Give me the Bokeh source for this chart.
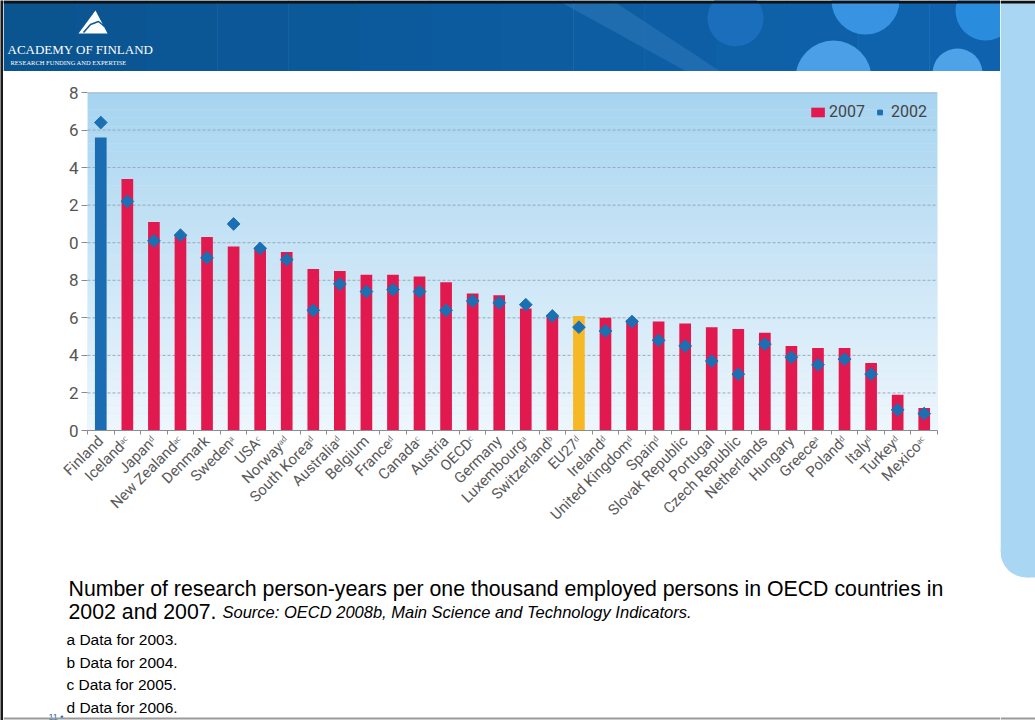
from math import pi
from bokeh.plotting import figure
from bokeh.layouts import row, column
from bokeh.models import (Range1d, LinearAxis, FixedTicker, BoxAnnotation, Legend,
                          LegendItem, ColumnDataSource, Span)
from bokeh.core.properties import value
from bokeh.embed import file_html
from bokeh.resources import INLINE

# ---------------- data ----------------
countries = ["Finland", "Iceland", "Japan", "New Zealand", "Denmark", "Sweden", "USA", "Norway",
             "South Korea", "Australia", "Belgium", "France", "Canada", "Austria", "OECD",
             "Germany", "Luxembourg", "Switzerland", "EU27", "Ireland", "United Kingdom", "Spain",
             "Slovak Republic", "Portugal", "Czech Republic", "Netherlands", "Hungary", "Greece",
             "Poland", "Italy", "Turkey", "Mexico"]
notes = ["", "ac", "d", "ac", "", "a", "c", "ad", "d", "d", "", "d", "c", "", "c", "", "a", "b",
         "d", "d", "d", "d", "", "", "", "", "", "a", "d", "d", "d", "ac"]
v2007 = [15.6, 13.4, 11.1, 10.4, 10.3, 9.8, 9.7, 9.5, 8.6, 8.5, 8.3, 8.3, 8.2, 7.9, 7.3, 7.2,
         6.5, 6.1, 6.1, 6.0, 5.9, 5.8, 5.7, 5.5, 5.4, 5.2, 4.5, 4.4, 4.4, 3.6, 1.9, 1.2]
v2002 = [16.4, 12.2, 10.1, 10.4, 9.2, 11.0, 9.7, 9.1, 6.4, 7.8, 7.4, 7.5, 7.4, 6.4, 6.9, 6.8,
         6.7, 6.1, 5.5, 5.3, 5.8, 4.8, 4.5, 3.7, 3.0, 4.6, 3.9, 3.5, 3.8, 3.0, 1.1, 0.9]
y_ticks = [0, 2, 4, 6, 8, 10, 12, 14, 16, 18]
y_tick_labels = ["0", "2", "4", "6", "8", "0", "2", "4", "6", "8"]
series_names = ["2007", "2002"]

header_title = "ACADEMY OF FINLAND"
header_sub = "RESEARCH FUNDING AND EXPERTISE"
caption_1 = "Number of research person-years per one thousand employed persons in OECD countries in"
caption_2 = "2002 and 2007."
source_text = "Source: OECD 2008b, Main Science and Technology Indicators."
footnotes = ["a Data for 2003.", "b Data for 2004.", "c Data for 2005.", "d Data for 2006."]
page_no = "11 \u2022"

# ---------------- styling ----------------
SUP = {"a": "\u1d43", "b": "\u1d47", "c": "\u1d9c", "d": "\u1d48"}
labels = [c + "".join(SUP[ch] for ch in n) for c, n in zip(countries, notes)]
RED, BLUE, YELLOW, DIAM = "#e2194f", "#1a6db2", "#f7b825", "#1b70b3"
bar_colors = [BLUE if c == "Finland" else YELLOW if c == "EU27" else RED for c in countries]
N = len(countries)
xpos = [i + 0.5 for i in range(N)]


def hexc(c):
    return "#%02x%02x%02x" % tuple(int(round(v)) for v in c)


def mix(a, b, t):
    return tuple(a[i] + (b[i] - a[i]) * t for i in range(3))


def deco_fig(w, h, x0, y0, bg="white"):
    f = figure(width=w, height=h, x_range=Range1d(x0, x0 + w), y_range=Range1d(y0 + h, y0),
               toolbar_location=None, output_backend="svg", min_border=0,
               x_axis_location=None, y_axis_location=None, outline_line_color=None,
               background_fill_color=bg, border_fill_color=bg, frame_align=False)
    f.grid.visible = False
    return f


def txt(f, s, X, Y, size, color="black", font="Liberation Sans", style="normal"):
    f.text(x=[X], y=[Y], text=[s], text_font=value(font), text_font_size=size,
           text_color=color, text_font_style=style, text_baseline="alphabetic", text_align="left")


# ---------------- chart ----------------
FL, FT, FR, FB = 87, 92, 937, 430      # frame in page pixels
CX0, CY0, CX1, CY1 = 3, 71, 1000, 562  # chart figure in page pixels

p = figure(frame_width=FR - FL, frame_height=FB - FT, x_range=Range1d(0, N), y_range=Range1d(0, 18),
           x_axis_location=None, y_axis_location=None, toolbar_location=None,
           output_backend="svg", min_border_left=FL - CX0, min_border_right=CX1 - FR,
           min_border_top=FT - CY0, min_border_bottom=CY1 - FB, outline_line_color=None,
           background_fill_color="#d2e8f7", border_fill_color="white", frame_align=False)
p.grid.visible = False

top_c = (166, 212, 240)
bot_c = (238, 246, 252)
n = 40
for k in range(n):
    col = hexc(mix(bot_c, top_c, (k + 0.5) / n))
    p.add_layout(BoxAnnotation(bottom=18 * k / n, top=18 * (k + 1) / n, fill_color=col,
                               fill_alpha=1, line_color=None, level="image"))
for yv in y_ticks[1:-1]:
    p.add_layout(Span(location=yv, dimension="width", line_color="#8fa3b4", line_dash="3 2",
                      line_width=1, line_alpha=0.9, level="underlay"))
p.add_layout(Span(location=y_ticks[-1], dimension="width", line_color="#9aa7b2", line_width=1.5,
                  level="underlay"))

yaxis = LinearAxis(ticker=FixedTicker(ticks=y_ticks),
                   major_label_overrides={t: s for t, s in zip(y_ticks, y_tick_labels)},
                   axis_line_color=None, major_tick_line_color="#8a8a8a", major_tick_out=6,
                   major_tick_in=0, minor_tick_line_color=None, major_label_text_font="Roboto",
                   major_label_text_font_size="17px", major_label_text_color="#555555",
                   major_label_standoff=3)
p.add_layout(yaxis, "left")

xaxis = LinearAxis(ticker=FixedTicker(ticks=xpos, minor_ticks=list(range(N + 1))),
                   major_label_overrides={x: s for x, s in zip(xpos, labels)},
                   axis_line_color="#8c8c8c", major_tick_line_color=None, major_tick_out=0,
                   major_tick_in=0, minor_tick_line_color="#8c8c8c", minor_tick_out=4,
                   minor_tick_in=0, major_label_orientation=pi / 4,
                   major_label_text_font="Roboto", major_label_text_font_size="15px",
                   major_label_text_color="#5a5a5a", major_label_standoff=4)
p.add_layout(xaxis, "below")

src = ColumnDataSource(dict(x=xpos, label=labels, v2007=v2007, v2002=v2002, color=bar_colors))
bars = p.vbar(x="x", top="v2007", width=0.44, fill_color="color", line_color=None, source=src)
dots = p.scatter(x="x", y="v2002", marker="square", angle=pi / 4, size=9,
                 fill_color=DIAM, line_color=DIAM, source=src)

leg = Legend(items=[LegendItem(label=series_names[0], renderers=[bars], index=1),
                    LegendItem(label=series_names[1], renderers=[dots])],
             orientation="horizontal", location="top_right",
             background_fill_alpha=0, border_line_color=None, label_text_font="Roboto",
             label_text_font_size="16px", label_text_color="#444444", glyph_width=17,
             glyph_height=12, label_standoff=3, spacing=6, padding=4, margin=10)
p.add_layout(leg, "center")

# ---------------- header ----------------
hd = deco_fig(CX1 - CX0, CY0, CX0, 0)
c_left, c_right = (10, 84, 144), (15, 99, 174)
m = 14
for k in range(m):
    x0 = CX0 + (CX1 - CX0) * k / m
    x1 = CX0 + (CX1 - CX0) * (k + 1) / m
    hd.quad(left=x0, right=x1 + 0.5, top=0, bottom=CY0, fill_color=hexc(mix(c_left, c_right, k / (m - 1))),
            line_color=None)
hd.patch(x=[557, 612, 720, 686], y=[0, 0, CY0, CY0], fill_color="#4a90cc", fill_alpha=0.3, line_color=None)
hd.circle(x=[735, 865, 833, 985, 957], y=[18, 0, 78, 10, 73], radius=[28, 34, 38, 30, 25],
          fill_color=["#1b6ebb", "#3893e2", "#4a9fe6", "#2a8cdc", "#4ea2e8"], line_color=None)
hd.quad(left=CX0, right=CX1, top=0, bottom=3, fill_color="#111111", line_color=None)
hd.patch(x=[78, 95, 107], y=[33, 10, 33], fill_color="white", line_color=None)
hd.line(x=[83, 90, 98, 104], y=[32, 24, 21, 26], line_color="#0b5894", line_width=1.5)
txt(hd, header_title, 7, 49, "13px", color="white", font="Liberation Serif")
txt(hd, header_sub, 10, 62, "6.5px", color="white", font="Liberation Serif")

# ---------------- caption ----------------
cp = deco_fig(CX1 - CX0, 720 - CY1, CX0, CY1)
txt(cp, caption_1, 68, 588, "21.3px")
txt(cp, caption_2, 68, 611, "21.3px")
txt(cp, source_text, 222, 611, "16.5px", style="italic")
for i, fn in enumerate(footnotes):
    txt(cp, fn, 66, 639 + 22.5 * i, "15.5px")
txt(cp, page_no, 48, 716, "9px", color=BLUE)
cp.quad(left=CX0, right=CX1, top=717, bottom=719, fill_color="#9a9a9a", line_color=None)

# ---------------- right band & left edge ----------------
rt = deco_fig(35, 720, 1000, 0)
rt.quad(left=1000, right=1035, top=0, bottom=551, fill_color="#a9d6f3", line_color=None)
rt.quad(left=1026, right=1035, top=551, bottom=577, fill_color="#a9d6f3", line_color=None)
rt.circle(x=[1026], y=[551], radius=26, fill_color="#a9d6f3", line_color=None)
rt.quad(left=1000, right=1035, top=0, bottom=3, fill_color="#111111", line_color=None)
rt.quad(left=1000, right=1035, top=717, bottom=719, fill_color="#9a9a9a", line_color=None)

lf = deco_fig(3, 720, 0, 0, bg="#1a1a1a")

page = row(lf, column(hd, p, cp, spacing=0), rt, spacing=0)
open("out.html", "w").write(file_html(page, INLINE))
